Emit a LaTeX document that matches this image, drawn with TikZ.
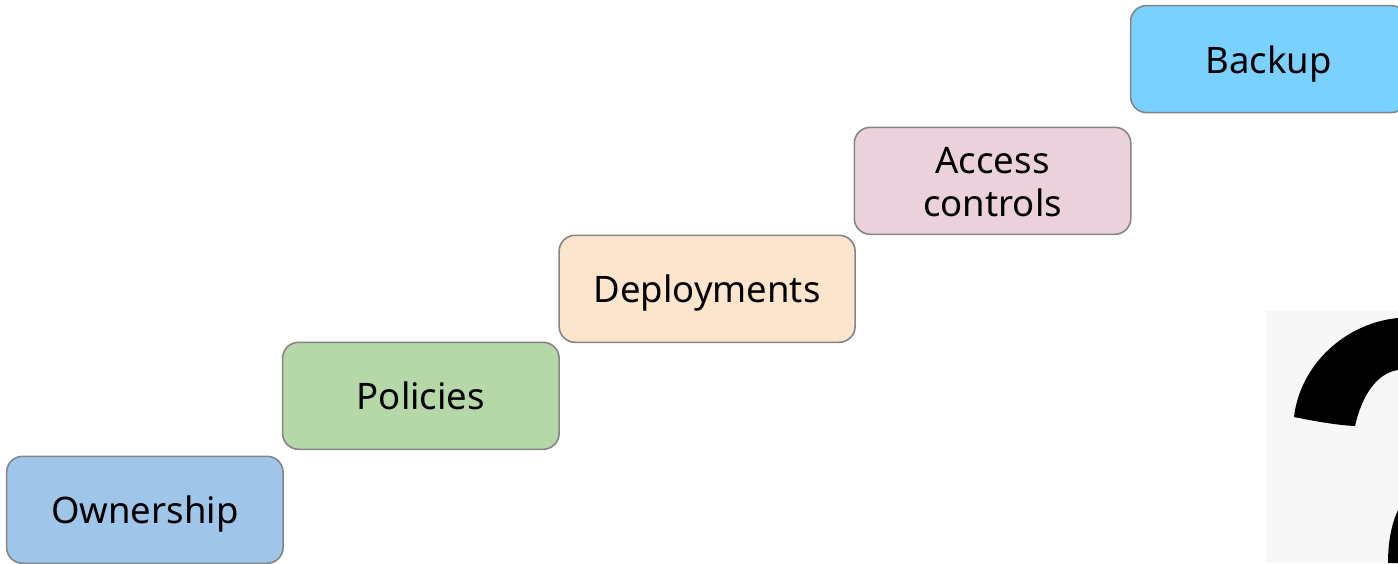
\documentclass[tikz,border=0pt]{standalone}
\usepackage{fontspec}
\setmainfont{Noto Sans}
\definecolor{boxedge}{HTML}{858585}
\definecolor{cOwn}{HTML}{9FC5E8}
\definecolor{cPol}{HTML}{B6D7A8}
\definecolor{cDep}{HTML}{FCE5CD}
\definecolor{cAcc}{HTML}{EAD1DC}
\definecolor{cBak}{HTML}{7AD0FF}
\definecolor{photo}{HTML}{F7F7F7}
\tikzset{
  stepbox/.style={draw=boxedge,line width=1.6pt,rounded corners=16pt,inner sep=0pt,
    anchor=north west,align=center,font=\fontsize{36.5}{43.5}\selectfont,text=black,
    minimum height=107pt,text height=28pt,text depth=0pt},
}
\begin{document}
\begin{tikzpicture}[x=1pt,y=-1pt]
\useasboundingbox (0,0) rectangle (1398,563);
\begin{scope}
\clip (0,0) rectangle (1398,563);
% partial photo of a question mark
\fill[photo] (1266,311) rectangle (1398,563);
\fill[black] (1294,417) .. controls (1300,365) and (1345,323) .. (1398,318)
  -- (1398,370) .. controls (1377,373) and (1362,395) .. (1355,426)
  .. controls (1335,425) and (1314,421) .. (1294,417) -- cycle;
\fill[black] (1388,563) .. controls (1388,540) and (1392,523) .. (1398,510) -- (1398,563) -- cycle;
\node[stepbox,fill=cOwn,minimum width=276.5pt] (own) at (5.8,455.5) {Ownership};
\node[stepbox,fill=cPol,minimum width=276.5pt] (pol) at (281.8,341.5) {Policies};
\node[stepbox,fill=cDep,minimum width=296pt] (dep) at (558.3,234.5) {Deployments};
\node[stepbox,fill=cAcc,minimum width=276.5pt,text height=72pt] (acc) at (853.5,126.5) {Access\\controls};
\node[stepbox,fill=cBak,minimum width=276.5pt] (bak) at (1129.8,4.8) {Backup};
\end{scope}
\end{tikzpicture}
\end{document}
